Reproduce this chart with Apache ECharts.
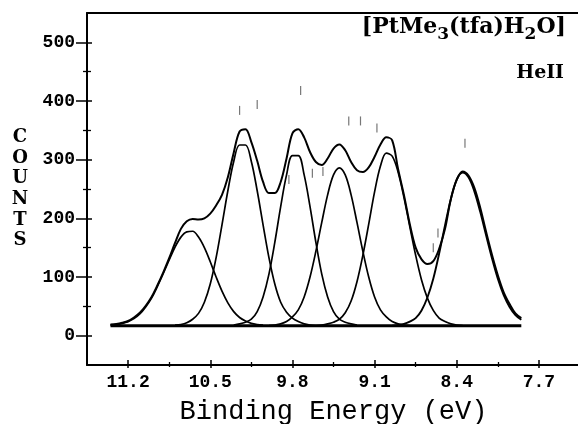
<!DOCTYPE html>
<html><head><meta charset="utf-8">
<script src="https://cdn.jsdelivr.net/npm/echarts@6/dist/echarts.min.js"></script>
<style>html,body{margin:0;padding:0;background:#fff}#c{width:578px;height:424px}</style>
</head><body><div id="c"></div>
<script>
const _ = null;
// Binding energy sample positions (eV)
const energy = [11.35,11.30,11.25,11.20,11.15,11.10,11.05,11.00,10.95,10.90,
  10.85,10.80,10.75,10.70,10.65,10.60,10.55,10.50,10.45,10.40,
  10.35,10.30,10.25,10.20,10.15,10.10,10.05,10.00,9.95,9.90,
  9.85,9.80,9.75,9.70,9.65,9.60,9.55,9.50,9.45,9.40,
  9.35,9.30,9.25,9.20,9.15,9.10,9.05,9.00,8.95,8.90,
  8.85,8.80,8.75,8.70,8.65,8.60,8.55,8.50,8.45,8.40,
  8.35,8.30,8.25,8.20,8.15,8.10,8.05,8.00,7.95,7.90,7.85];
// Measured spectrum envelope (counts)
const envelope = [19,20,22,25,31,39,51,66,86,108,
  132,158,182,195,199,198,200,208,222,240,
  270,312,348,352,330,298,262,243,243,262,
  302,345,352,338,313,296,291,302,319,326,
  316,296,282,279,287,305,326,338,333,284,
  240,190,150,130,122,127,148,182,233,266,
  280,273,252,218,177,138,103,74,54,38,30];
// Fitted component bands (counts)
const comp1 = [18,19,21,24,29,37,49,64,84,106,
  129,151,168,177,178,168,150,126,100,76,
  56,41,31,25,21,19,18,_,_,_,
  _,_,_,_,_,_,_,_,_,_,
  _,_,_,_,_,_,_,_,_,_,
  _,_,_,_,_,_,_,_,_,_,
  _,_,_,_,_,_,_,_,_,_,_];
const comp2 = [_,_,_,_,_,_,_,_,_,_,
  _,18,19,22,28,38,57,88,133,189,
  247,297,325,325,297,247,189,133,88,57,
  40,30,24,20,18,17,_,_,_,_,
  _,_,_,_,_,_,_,_,_,_,
  _,_,_,_,_,_,_,_,_,_,
  _,_,_,_,_,_,_,_,_,_,_];
const comp3 = [_,_,_,_,_,_,_,_,_,_,
  _,_,_,_,_,_,_,_,_,_,
  _,18,20,23,28,41,66,105,159,220,
  274,307,307,274,220,159,105,66,41,28,
  23,20,18,_,_,_,_,_,_,_,
  _,_,_,_,_,_,_,_,_,_,
  _,_,_,_,_,_,_,_,_,_,_];
const comp4 = [_,_,_,_,_,_,_,_,_,_,
  _,_,_,_,_,_,_,_,_,_,
  _,_,_,_,_,_,_,17,18,20,
  24,32,44,66,100,144,193,240,274,286,
  274,240,193,144,100,66,44,32,24,20,
  18,17,_,_,_,_,_,_,_,_,
  _,_,_,_,_,_,_,_,_,_,_];
const comp5 = [_,_,_,_,_,_,_,_,_,_,
  _,_,_,_,_,_,_,_,_,_,
  _,_,_,_,_,_,_,_,_,_,
  _,_,_,_,_,17,18,20,23,28,
  39,59,92,137,190,245,289,311,306,279,
  236,186,137,95,64,43,30,24,20,18,
  17,_,_,_,_,_,_,_,_,_,_];
const comp6 = [_,_,_,_,_,_,_,_,_,_,
  _,_,_,_,_,_,_,_,_,_,
  _,_,_,_,_,_,_,_,_,_,
  _,_,_,_,_,_,_,_,_,_,
  _,_,_,_,_,_,_,_,17,18,
  20,24,30,43,65,97,140,188,233,266,
  278,270,246,211,171,132,97,69,49,35,27];
const baselineEnergy = [11.35, 7.85];
const baselineCounts = [17, 17];
// stray data marks
const noiseEnergy = [10.25, 10.10, 9.73, 9.32, 9.22, 9.08, 8.33, 9.83, 9.63, 9.54, 8.60, 8.56];
const noiseCounts = [384, 394, 418, 366, 366, 354, 328, 266, 277, 280, 150, 175];
// Axis ticks
const xTickLabels = [11.2, 10.5, 9.8, 9.1, 8.4, 7.7];
const xMinorTicks = [10.85, 10.15, 9.45, 8.75, 8.05];
const yTickLabels = [0, 100, 200, 300, 400, 500];
const yMinorTicks = [50, 150, 250, 350, 450];

function pairs(xs, ys) {
  const out = [];
  for (let i = 0; i < xs.length; i++) if (ys[i] != null) out.push([xs[i], ys[i]]);
  return out;
}

const X_MIN = 7.35, X_MAX = 11.55, Y_MIN = -50, Y_MAX = 550;
const black = '#000';
function xa(extra) {
  return Object.assign({
    type: 'value', min: X_MIN, max: X_MAX, inverse: true, position: 'bottom',
    axisLine: {show: false, onZero: false}, axisLabel: {show: false}, splitLine: {show: false},
    axisTick: {show: false}
  }, extra);
}
function ya(extra) {
  return Object.assign({
    type: 'value', min: Y_MIN, max: Y_MAX, position: 'left',
    axisLine: {show: false, onZero: false}, axisLabel: {show: false}, splitLine: {show: false},
    axisTick: {show: false}
  }, extra);
}
const tickFont = {fontFamily: 'Liberation Mono', fontWeight: 'bold', fontSize: 18, color: black};

const lineSeries = (data, w) => ({
  type: 'line', data: data, smooth: 0.35, symbol: 'none', silent: true,
  lineStyle: {color: black, width: w}, xAxisIndex: 0, yAxisIndex: 0, z: 3
});

const chart = echarts.init(document.getElementById('c'), null, {renderer: 'canvas'});
chart.setOption({
  animation: false,
  backgroundColor: '#fff',
  grid: {left: 87, right: -2, top: 13, bottom: 59, containLabel: false, outerBoundsMode: 'none'},
  xAxis: [
    xa({
      axisLine: {show: true, onZero: false, lineStyle: {color: black, width: 2}},
      axisTick: {show: true, customValues: xTickLabels, length: 3, lineStyle: {color: black, width: 1.5}},
      axisLabel: Object.assign({show: true, customValues: xTickLabels, margin: 8,
        formatter: v => Number(v).toFixed(1)}, tickFont),
      name: 'Binding Energy (eV)', nameLocation: 'middle', nameGap: 33,
      nameTextStyle: {fontFamily: 'Liberation Mono', fontSize: 27, color: black}
    }),
    xa({axisTick: {show: true, inside: true, customValues: xTickLabels, length: 5, lineStyle: {color: black, width: 1.5}}}),
    xa({axisTick: {show: true, customValues: xMinorTicks, length: 2, lineStyle: {color: black, width: 1.3}}}),
    xa({axisTick: {show: true, inside: true, customValues: xMinorTicks, length: 3, lineStyle: {color: black, width: 1.3}}}),
    xa({position: 'top', axisLine: {show: true, onZero: false, lineStyle: {color: black, width: 2}}})
  ],
  yAxis: [
    ya({
      axisLine: {show: true, onZero: false, lineStyle: {color: black, width: 2}},
      axisTick: {show: true, customValues: yTickLabels, length: 11, lineStyle: {color: black, width: 1.5}},
      axisLabel: Object.assign({show: true, customValues: yTickLabels, margin: 12}, tickFont),
      name: 'C\nO\nU\nN\nT\nS', nameLocation: 'middle', nameRotate: 0, nameGap: 67,
      nameTextStyle: {align: 'center', verticalAlign: 'middle', lineHeight: 20.6,
        fontFamily: 'DejaVu Serif', fontWeight: 'bold', fontSize: 18, color: black, padding: [0, 0, 10, 0]}
    }),
    ya({axisTick: {show: true, inside: true, customValues: yTickLabels, length: 5, lineStyle: {color: black, width: 1.5}}}),
    ya({axisTick: {show: true, customValues: yMinorTicks, length: 4, lineStyle: {color: black, width: 1.3}}}),
    ya({axisTick: {show: true, inside: true, customValues: yMinorTicks, length: 4, lineStyle: {color: black, width: 1.3}}})
  ],
  graphic: [
    {type: 'text', right: 12, top: 16, z: 10, style: {
      text: '{m|[PtMe}{s|3}{m|(tfa)H}{s|2}{m|O]}',
      rich: {
        m: {fontFamily: 'DejaVu Serif', fontWeight: 'bold', fontSize: 22, fill: black, lineHeight: 30, verticalAlign: 'top'},
        s: {fontFamily: 'DejaVu Serif', fontWeight: 'bold', fontSize: 17, fill: black, lineHeight: 30, verticalAlign: 'top', padding: [10, 0, 0, 0]}
      }
    }},
    {type: 'text', right: 14, top: 64, z: 10, style: {
      text: 'HeII', fontFamily: 'DejaVu Serif', fontWeight: 'bold', fontSize: 19, fill: black
    }}
  ],
  series: [
    lineSeries(pairs(baselineEnergy, baselineCounts), 3),
    lineSeries(pairs(energy, comp1), 1.7),
    lineSeries(pairs(energy, comp2), 1.7),
    lineSeries(pairs(energy, comp3), 1.7),
    lineSeries(pairs(energy, comp4), 1.7),
    lineSeries(pairs(energy, comp5), 1.7),
    lineSeries(pairs(energy, comp6), 1.9),
    lineSeries(pairs(energy, envelope), 2),
    {type: 'scatter', data: pairs(noiseEnergy, noiseCounts), symbol: 'rect', symbolSize: [1.2, 9],
      itemStyle: {color: '#555'}, silent: true, xAxisIndex: 0, yAxisIndex: 0, z: 2}
  ]
});
</script></body></html>
